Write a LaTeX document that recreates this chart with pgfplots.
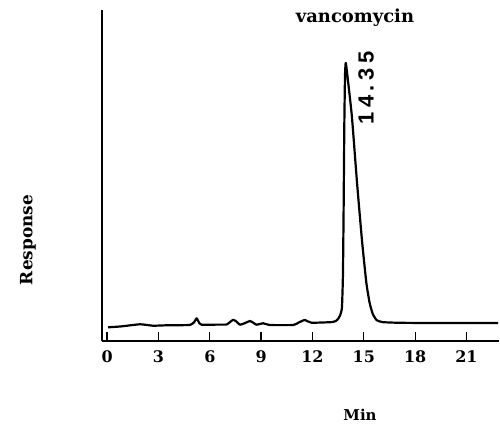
\documentclass[border=0pt]{standalone}
\usepackage{fontspec}
\newfontfamily\labelsans{Liberation Sans}
\newfontfamily\labelserif{DejaVu Serif}
\usepackage{pgfplots}
\pgfplotsset{compat=1.18}

\begin{document}
\begin{tikzpicture}
\useasboundingbox (0,0) rectangle (500bp,436bp);
\begin{axis}[
  scale only axis, width=397bp, height=331bp,
  at={(102bp,95bp)}, anchor=south west,
  xmin=-0.3, xmax=22.9, ymin=0, ymax=100,
  axis x line*=bottom, axis y line*=left,
  x axis line style={-, line width=1.8bp},
  y axis line style={-, line width=2.8bp},
  xtick={0,3,...,21}, ytick=\empty,
  tick align=inside, major tick length=9bp,
  tick style={black, line width=1.3bp},
  xticklabel style={font=\fontsize{16}{19}\selectfont\labelserif\bfseries, yshift=-6bp},
  /pgf/number format/assume math mode=true,
  clip=false]
\addplot[black, line width=2.2bp, line join=round, smooth, tension=0.3] coordinates {
 (0.06,4.14) (0.8,4.4) (1.93,5.05) (2.68,4.62) (3.5,4.75) (4.84,4.85)
 (5.1,5.8) (5.23,6.86) (5.4,5.3) (5.52,4.92) (6.5,4.95) (6.98,4.98)
 (7.2,5.8) (7.37,6.4) (7.55,5.9) (7.76,4.92) (8.05,5.4) (8.34,6.04)
 (8.55,5.5) (8.73,4.92) (9.12,5.35) (9.51,4.83) (10.87,4.83) (11.2,5.6)
 (11.55,6.34) (11.94,5.53) (13.2,5.74) (13.45,6.4) (13.6,7.6) (13.72,10)
 (13.78,20) (13.82,40) (13.86,65) (13.9,80) (13.94,84) (14.0,82)
 (14.3,68) (14.6,48) (14.9,30) (15.15,17.5) (15.34,11.5) (15.52,8.2)
 (15.75,6.3) (16.1,5.7) (17.09,5.5) (19,5.44) (21,5.44) (22.85,5.44)};
\end{axis}
\node[font=\fontsize{18}{21}\selectfont\labelserif\bfseries] at (355bp,418bp) {vancomycin};
\node[font=\fontsize{22}{26}\selectfont\labelsans\bfseries, rotate=90] at (366bp,348bp)
  {1\hspace{5bp}4\hspace{4bp}.\hspace{4bp}3\hspace{5bp}5};
\node[font=\fontsize{17}{20}\selectfont\labelserif\bfseries, rotate=90] at (28bp,196bp) {Response};
\node[font=\fontsize{15}{18}\selectfont\labelserif\bfseries] at (360bp,21bp) {Min};
\end{tikzpicture}
\end{document}
